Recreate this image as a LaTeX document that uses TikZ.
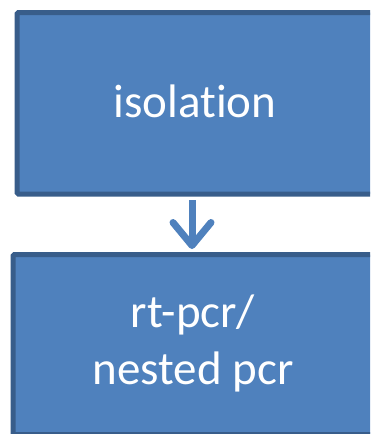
\documentclass[tikz,border=0pt]{standalone}
\usepackage{fontspec}
\setmainfont{Carlito}[Ligatures=NoCommon]
\usetikzlibrary{arrows.meta}
\definecolor{boxfill}{HTML}{4F81BD}
\definecolor{boxedge}{HTML}{385D8A}
\tikzset{
  flowbox/.style={draw=boxedge, fill=boxfill, line width=5pt, rounded corners=1.5pt,
    inner sep=0pt},
  flowtext/.style={text=white, font=\fontsize{47}{57}\selectfont, align=center},
  flowarrow/.style={draw=boxfill, line width=7pt,
    -{Straight Barb[round, length=23pt, width=38pt, line width=7pt]}}
}
\begin{document}
\begin{tikzpicture}[x=1pt,y=-1pt]
\useasboundingbox (0,0) rectangle (370,434);
\clip (0,0) rectangle (370,434);
\node[flowbox, minimum width=368pt, minimum height=181.5pt, anchor=north west] (iso) at (14.5,10) {};
\node[flowtext] (isotext) at (195,101) {isolation};
\node[flowbox, minimum width=372pt, minimum height=180pt, anchor=north west] (pcr) at (10.5,252) {};
\node[flowtext] (pcrtext) at (193,343) {rt-pcr/\\nested pcr};
\coordinate (a1) at (192,200);
\coordinate (a2) at (192,249);
\draw[flowarrow] (a1) -- (a2);
\end{tikzpicture}
\end{document}
